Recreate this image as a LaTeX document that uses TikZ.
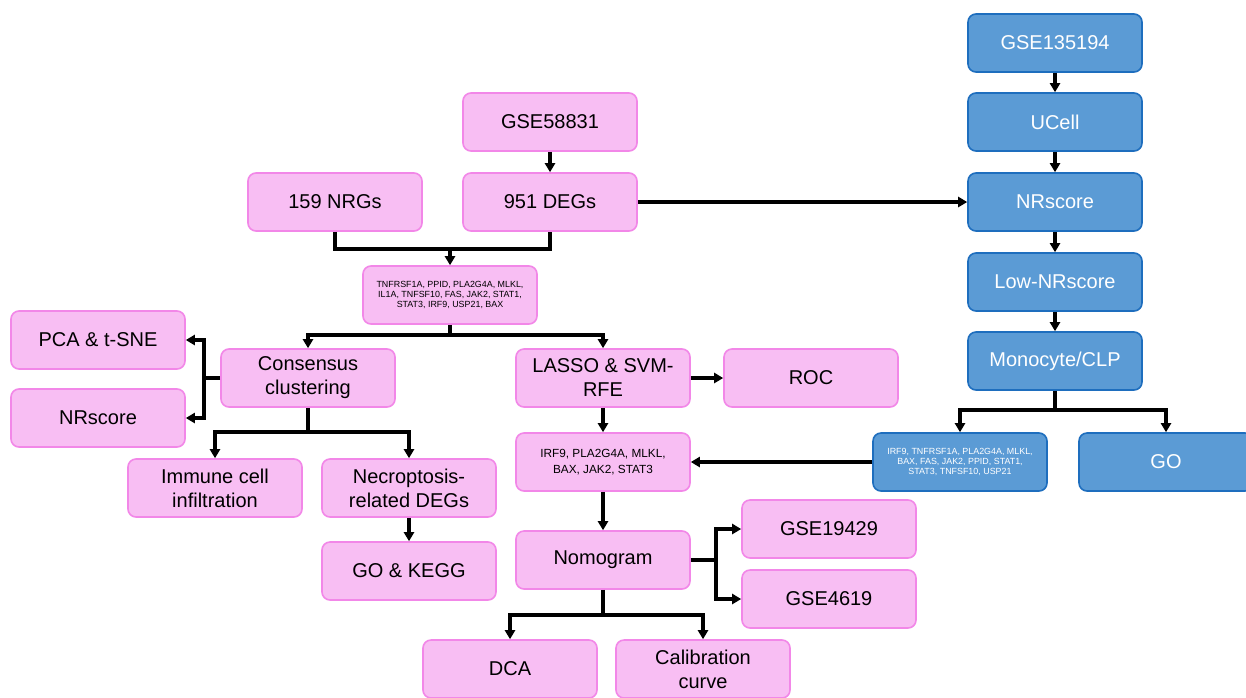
\documentclass[tikz,border=0pt]{standalone}
\usepackage{fontspec}
\setmainfont{Liberation Sans}
\usetikzlibrary{arrows.meta}
\definecolor{pinkfill}{RGB}{248,190,243}
\definecolor{pinkline}{RGB}{242,135,232}
\definecolor{bluefill}{RGB}{91,155,213}
\definecolor{blueline}{RGB}{30,110,190}
\tikzset{
  box/.style={rounded corners=8pt, minimum width=174pt, minimum height=58pt, inner sep=2pt, align=center, line width=1.6pt, font=\fontsize{20}{24}\selectfont},
  pbox/.style={box, fill=pinkfill, draw=pinkline, text=black},
  bbox/.style={box, fill=bluefill, draw=blueline, text=white},
  small/.style={font=\fontsize{8.9}{10.4}\selectfont},
  mid/.style={font=\fontsize{11.8}{15.6}\selectfont},
  conn/.style={line width=3.3pt, draw=black},
  arr/.style={conn, -{Triangle[length=9pt,width=10pt]}},
}
\begin{document}
\begin{tikzpicture}[x=1pt,y=-1pt]
\clip (0,0) rectangle (1246,697);
\fill[white] (0,0) rectangle (1246,697);
% pink nodes
\node[pbox] (gse58831) at (550,122) {GSE58831};
\node[pbox] (degs) at (550,202) {951 DEGs};
\node[pbox] (nrgs) at (335,202) {159 NRGs};
\node[pbox, small] (genes) at (450,295) {TNFRSF1A, PPID, PLA2G4A, MLKL,\\IL1A, TNFSF10, FAS, JAK2, STAT1,\\STAT3, IRF9, USP21, BAX};
\node[pbox] (pca) at (98,340) {PCA \& t-SNE};
\node[pbox] (nrscorep) at (98,418) {NRscore};
\node[pbox] (consensus) at (308,378) {Consensus\\clustering};
\node[pbox] (lasso) at (603,378) {LASSO \& SVM-\\RFE};
\node[pbox] (roc) at (811,378) {ROC};
\node[pbox, mid] (hub) at (603,462) {IRF9, PLA2G4A, MLKL,\\BAX, JAK2, STAT3};
\node[pbox] (immune) at (215,488) {Immune cell\\infiltration};
\node[pbox] (necro) at (409,488) {Necroptosis-\\related DEGs};
\node[pbox] (gokegg) at (409,571) {GO \& KEGG};
\node[pbox] (nomogram) at (603,560) {Nomogram};
\node[pbox] (gse19429) at (829,529) {GSE19429};
\node[pbox] (gse4619) at (829,599) {GSE4619};
\node[pbox] (dca) at (510,669) {DCA};
\node[pbox] (calib) at (703,669) {Calibration\\curve};
% blue nodes
\node[bbox] (gse135194) at (1055,43) {GSE135194};
\node[bbox] (ucell) at (1055,122) {UCell};
\node[bbox] (nrscoreb) at (1055,202) {NRscore};
\node[bbox] (low) at (1055,282) {Low-NRscore};
\node[bbox] (mono) at (1055,361) {Monocyte/CLP};
\node[bbox, small] (bgenes) at (960,462) {IRF9, TNFRSF1A, PLA2G4A, MLKL,\\BAX, FAS, JAK2, PPID, STAT1,\\STAT3, TNFSF10, USP21};
\node[bbox] (go) at (1166,462) {GO};
% coordinates for junctions
\coordinate (j1) at (450,249);
\coordinate (j2) at (450,335);
\coordinate (j3) at (204,378);
\coordinate (j4) at (308,432);
\coordinate (j5) at (1055,410);
\coordinate (j6) at (716,560);
\coordinate (j7) at (603,615);
% connectors
\draw[arr] (gse58831) -- (degs);
\draw[conn] (nrgs.south) |- (j1) -| (degs.south);
\draw[arr] (j1) -- (genes.north);
\draw[arr] (degs) -- (nrscoreb);
\draw[conn] (genes.south) -- (j2);
\draw[arr] (j2) -| (consensus.north);
\draw[arr] (j2) -| (lasso.north);
\draw[conn] (consensus.west) -- (j3);
\draw[arr] (j3) |- (pca.east);
\draw[arr] (j3) |- (nrscorep.east);
\draw[conn] (consensus.south) -- (j4);
\draw[arr] (j4) -| (immune.north);
\draw[arr] (j4) -| (necro.north);
\draw[arr] (necro) -- (gokegg);
\draw[arr] (lasso) -- (roc);
\draw[arr] (lasso) -- (hub);
\draw[arr] (bgenes) -- (hub);
\draw[arr] (hub) -- (nomogram);
\draw[conn] (nomogram.east) -- (j6);
\draw[arr] (j6) |- (gse19429.west);
\draw[arr] (j6) |- (gse4619.west);
\draw[conn] (nomogram.south) -- (j7);
\draw[arr] (j7) -| (dca.north);
\draw[arr] (j7) -| (calib.north);
\draw[arr] (gse135194) -- (ucell);
\draw[arr] (ucell) -- (nrscoreb);
\draw[arr] (nrscoreb) -- (low);
\draw[arr] (low) -- (mono);
\draw[conn] (mono.south) -- (j5);
\draw[arr] (j5) -| (bgenes.north);
\draw[arr] (j5) -| (go.north);
\end{tikzpicture}
\end{document}
